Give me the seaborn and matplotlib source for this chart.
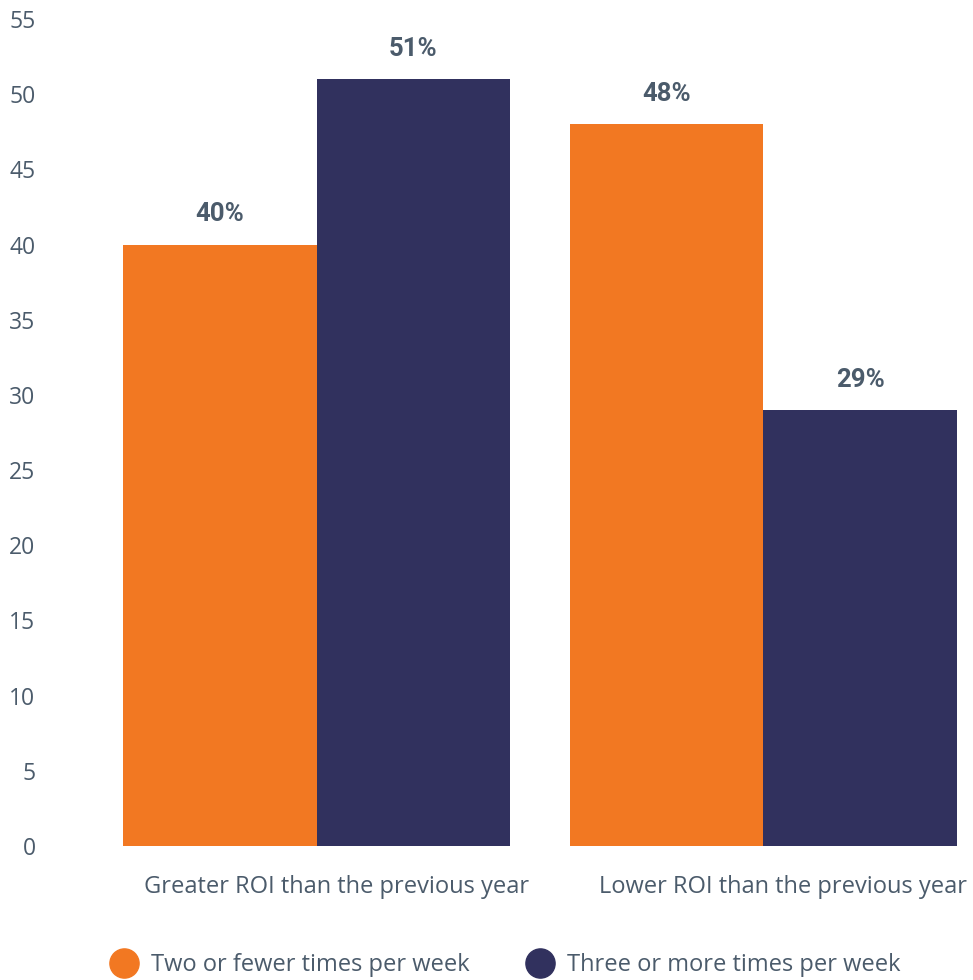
import pandas as pd
import seaborn as sns
import matplotlib.pyplot as plt
import matplotlib.transforms as mtransforms
from matplotlib.lines import Line2D

# Data
categories = ["Greater ROI than the previous year", "Lower ROI than the previous year"]
series_names = ["Two or fewer times per week", "Three or more times per week"]
two_or_fewer = [40, 48]
three_or_more = [51, 29]
y_ticks = [0, 5, 10, 15, 20, 25, 30, 35, 40, 45, 50, 55]

# Constants
ORANGE = "#F27822"
NAVY = "#31315E"
TEXT = "#4B5B6B"

df = pd.DataFrame({
    "category": categories * 2,
    "series": [series_names[0]] * 2 + [series_names[1]] * 2,
    "value": two_or_fewer + three_or_more,
})

sns.set_style("white")
plt.rcParams["font.family"] = ["Open Sans", "DejaVu Sans"]

fig = plt.figure(figsize=(9.73, 9.80), dpi=100)
ax = fig.add_axes([123 / 973, 134 / 980, (957 - 123) / 973, (846 - 19) / 980])

sns.barplot(
    data=df, x="category", y="value", hue="series",
    palette=[ORANGE, NAVY], width=0.866, saturation=1,
    errorbar=None, legend=False, linewidth=0, ax=ax,
)

# Value labels
for container in ax.containers:
    ax.bar_label(
        container, labels=["{}%".format(int(v)) for v in container.datavalues],
        padding=13, fontsize=18.5, fontweight="bold", color=TEXT,
        family=["Roboto", "DejaVu Sans"],
    )

ax.set_xlim(-0.433, 1.433)
ax.set_ylim(0, 55)
ax.set_yticks(y_ticks)
ax.tick_params(axis="y", length=0, pad=63, labelsize=16.5, labelcolor=TEXT)
ax.tick_params(axis="x", length=0, pad=21, labelsize=17, labelcolor=TEXT)
ax.set_xlabel("")
ax.set_ylabel("")
sns.despine(ax=ax, left=True, bottom=True)

# Shift category labels slightly right as in the original
offset = mtransforms.ScaledTranslation(20 / 100, 0, fig.dpi_scale_trans)
for lbl in ax.get_xticklabels():
    lbl.set_transform(lbl.get_transform() + offset)

# Legend
handles = [
    Line2D([], [], marker="o", linestyle="", markersize=21, color=c)
    for c in [ORANGE, NAVY]
]
fig.legend(
    handles, series_names, loc="center left", bbox_to_anchor=(110 / 973, 15 / 980),
    ncol=2, frameon=False, fontsize=17, labelcolor=TEXT,
    borderpad=0, borderaxespad=0,
    handletextpad=0.55, columnspacing=2.37, handlelength=1.2,
)

fig.savefig("out.png", dpi=100)
plt.close(fig)
